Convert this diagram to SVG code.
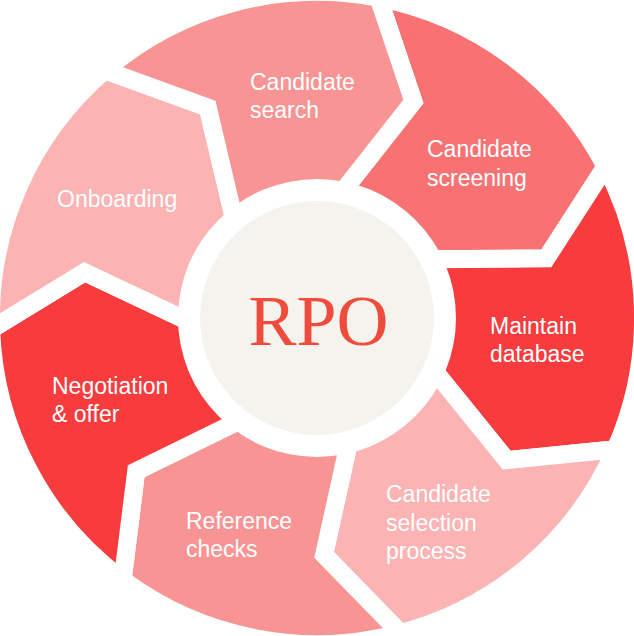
<svg xmlns="http://www.w3.org/2000/svg" width="634" height="636" viewBox="0 0 634 636">
<style>
.seg{stroke:#fff;stroke-width:18;stroke-linejoin:miter;stroke-miterlimit:10}
.lbl{font-family:"Liberation Sans",Arial,sans-serif;font-size:23px;fill:#fff}
.c1{fill:#F99494}.c2{fill:#F87274}.c3{fill:#F83B3D}.c4{fill:#FBB3B3}
.title{font-family:"Liberation Serif","Times New Roman",serif;font-size:72px;fill:#EF4C3D}
</style>
<defs>
<path id="seg" d="M0,0 L20.09,-119.44 L96.39,-216.50 L61.53,-320.21 A326,326 0 0 1 288.71,-151.54 L229.37,-59.63 L105.91,-58.76 Z"/>
</defs>
<rect width="634" height="636" fill="#fff"/>
<g id="candidate-screening">
<use href="#seg" class="seg c2" transform="translate(317,318)"/>
<text class="lbl" x="427" y="157">Candidate<tspan x="427" y="186">screening</tspan></text>
</g>
<g id="maintain-database">
<use href="#seg" class="seg c3" transform="translate(317,318) rotate(51.4286)"/>
<text class="lbl" x="490" y="334">Maintain<tspan x="490" y="362">database</tspan></text>
</g>
<g id="candidate-selection">
<use href="#seg" class="seg c4" transform="translate(317,318) rotate(102.8571)"/>
<text class="lbl" x="386" y="502">Candidate<tspan x="386" y="531">selection</tspan><tspan x="386" y="559">process</tspan></text>
</g>
<g id="reference-checks">
<use href="#seg" class="seg c1" transform="translate(317,318) rotate(154.2857)"/>
<text class="lbl" x="186" y="529">Reference<tspan x="186" y="557">checks</tspan></text>
</g>
<g id="negotiation-offer">
<use href="#seg" class="seg c3" transform="translate(317,318) rotate(205.7143)"/>
<text class="lbl" x="52" y="394">Negotiation<tspan x="52" y="422">&amp; offer</tspan></text>
</g>
<g id="onboarding">
<use href="#seg" class="seg c4" transform="translate(317,318) rotate(257.1429)"/>
<text class="lbl" x="57" y="207">Onboarding</text>
</g>
<g id="candidate-search">
<use href="#seg" class="seg c1" transform="translate(317,318) rotate(308.5714)"/>
<text class="lbl" x="250" y="90">Candidate<tspan x="250" y="118">search</tspan></text>
</g>
<g id="rpo-center">
<circle cx="317" cy="318" r="139" fill="#fff"/>
<circle cx="317" cy="318" r="117" fill="#F5F3EE"/>
<text class="title" x="318.5" y="345" text-anchor="middle">RPO</text>
</g>
</svg>
